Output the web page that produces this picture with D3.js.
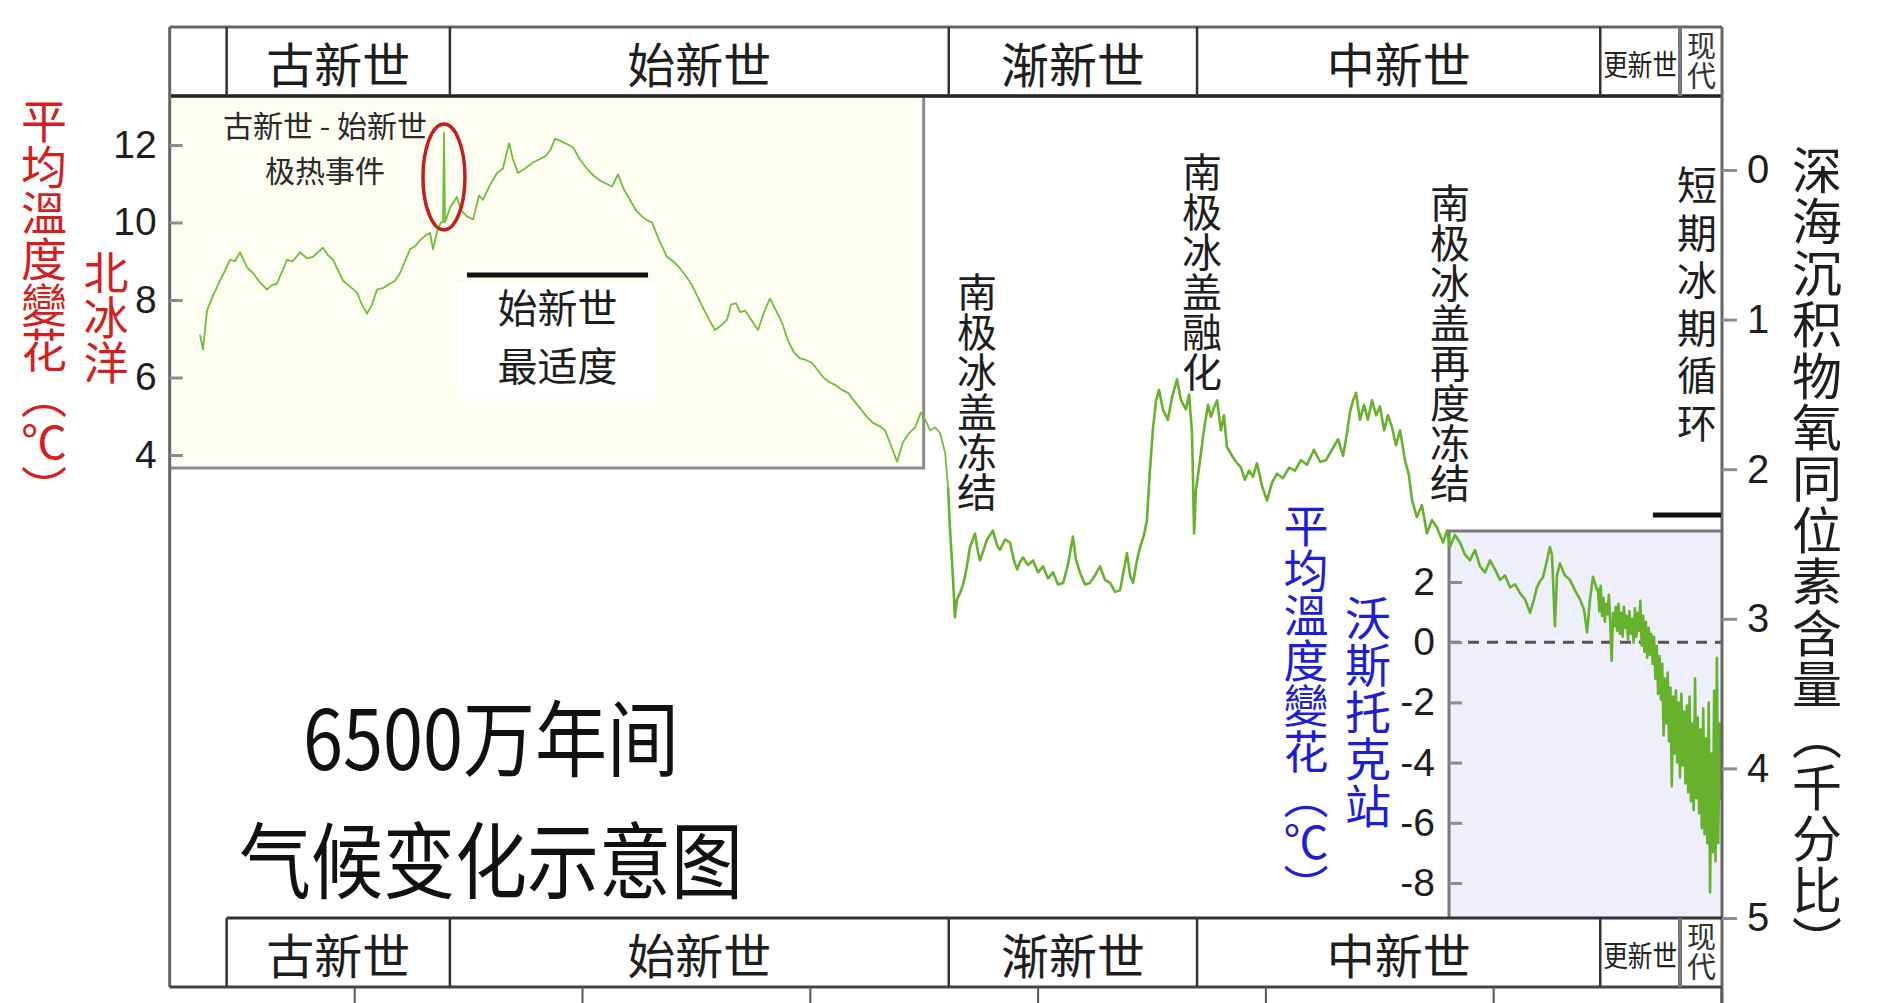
<!DOCTYPE html>
<html><head><meta charset="utf-8">
<script src="https://cdn.jsdelivr.net/npm/d3@7/dist/d3.min.js"></script>
<style>
html,body{margin:0;padding:0;background:#fff;}
svg{display:block;}
</style></head><body>
<svg id="chart" width="1900" height="1003"></svg>
<script>
// ---- data: deep-sea benthic oxygen isotope curve (age in Ma, d18O in per mil) ----
const ages = [
66.77,66.64,66.46,66.20,65.89,65.63,65.45,65.23,65.01,64.71,
64.44,64.14,63.83,63.61,63.39,63.17,62.95,62.69,62.38,62.07,
61.81,61.59,61.37,61.15,60.93,60.71,60.49,60.18,59.88,59.66,
59.44,59.22,59.00,58.74,58.43,58.21,57.99,57.77,57.55,57.33,
57.11,56.89,56.67,56.54,56.36,56.19,
56.10,56.06,56.01,
55.79,55.49,55.31,
55.05,54.78,54.52,54.35,54.04,53.73,53.47,53.20,53.03,52.81,
52.50,52.15,51.89,51.62,51.40,51.18,50.88,50.61,50.39,50.09,
49.74,49.47,49.21,48.95,48.68,48.42,48.16,47.89,47.63,47.37,
47.10,46.93,46.58,46.27,46.00,45.74,45.48,45.21,44.95,44.69,
44.42,44.16,43.90,43.63,43.46,43.24,43.06,42.84,42.58,42.27,
42.01,41.75,41.48,41.22,40.96,40.69,40.43,40.17,39.90,39.64,
39.38,39.11,38.85,38.59,38.32,38.02,37.75,37.49,37.23,36.96,
36.70,36.44,36.17,35.91,35.65,35.38,35.12,34.90,34.72,34.50,
34.28,34.06,33.93,33.85,33.71,33.63,33.54,33.41,33.27,33.19,
33.06,32.97,32.84,32.75,32.62,32.53,32.35,32.22,32.09,31.96,
31.78,31.65,31.43,31.21,31.04,30.90,30.77,30.64,30.42,30.20,
29.98,29.76,29.54,29.32,29.10,28.88,28.67,28.45,28.31,28.14,
27.92,27.70,27.48,27.26,27.04,26.82,26.60,26.38,26.21,26.08,
25.94,25.81,25.64,25.50,25.33,25.20,25.07,24.93,24.80,24.67,
24.50,24.28,24.10,23.88,23.70,23.49,23.35,23.22,23.13,23.05,
22.87,22.70,22.52,22.39,22.26,22.12,21.95,21.82,21.69,21.47,
21.29,21.07,20.90,20.72,20.54,20.37,20.15,19.93,19.71,19.49,
19.23,18.96,18.70,18.44,18.17,17.87,17.60,17.34,17.08,16.81,
16.59,16.42,16.29,16.15,16.02,15.85,15.67,15.50,15.32,15.14,
14.97,14.79,14.62,14.44,14.27,14.09,13.87,13.70,13.56,13.35,
13.13,12.91,12.69,12.47,12.20,12.03,11.90,11.68,11.46,11.24,
11.02,10.80,10.58,10.36,10.14,9.92,9.70,9.48,9.26,9.04,
8.82,8.60,8.38,8.21,8.08,7.95,7.81,7.64,7.51,7.42,
7.29,7.20,7.07,6.85,6.63,6.41,6.19,6.01,5.88,5.75,
5.62,5.44,
5.40,5.34,5.28,5.22,5.16,5.10,5.04,4.98,4.92,4.86,
4.80,4.74,4.68,4.62,4.56,4.50,4.44,4.38,4.32,4.26,
4.20,4.14,4.08,4.02,3.96,3.90,3.84,3.78,3.72,3.66,
3.60,3.54,3.48,3.42,3.36,3.30,3.24,3.18,3.12,3.06,
3.00,2.94,2.88,2.82,2.76,2.70,2.64,2.58,2.52,2.46,
2.40,2.34,2.28,2.22,2.16,2.10,2.04,1.98,1.92,1.86,
1.80,1.74,1.68,1.62,1.56,1.50,1.44,1.38,1.32,1.26,
1.20,1.14,1.08,1.02,0.96,0.90,0.84,0.78,0.72,0.66,
0.60,0.54,0.48,0.42,0.36,0.30,0.24,0.18,0.12,0.06,
0.00];
const d18O = [
1.10,1.20,0.94,0.84,0.74,0.66,0.60,0.61,0.55,0.65,
0.69,0.75,0.80,0.77,0.76,0.68,0.60,0.61,0.55,0.59,
0.58,0.55,0.52,0.57,0.60,0.67,0.74,0.78,0.82,0.90,
0.96,0.90,0.80,0.79,0.76,0.74,0.69,0.61,0.53,0.51,
0.47,0.44,0.42,0.53,0.41,0.35,
0.35,-0.25,0.35,
0.25,0.18,0.27,
0.31,0.33,0.17,0.20,0.10,0.02,-0.01,-0.18,-0.07,0.02,
-0.01,-0.05,-0.07,-0.09,-0.13,-0.21,-0.19,-0.17,-0.15,-0.07,
0.00,0.04,0.07,0.09,0.11,0.03,0.13,0.20,0.27,0.31,
0.34,0.35,0.48,0.58,0.61,0.65,0.70,0.76,0.84,0.92,
1.00,1.07,1.04,1.00,0.90,0.89,0.95,0.94,1.00,1.07,
0.95,0.86,0.94,1.02,1.14,1.22,1.26,1.27,1.29,1.34,
1.39,1.42,1.44,1.47,1.49,1.55,1.60,1.65,1.69,1.71,
1.74,1.84,1.95,1.82,1.76,1.72,1.62,1.68,1.74,1.72,
1.76,1.89,2.12,2.39,2.74,2.99,2.87,2.83,2.77,2.72,
2.61,2.52,2.47,2.43,2.55,2.61,2.53,2.47,2.44,2.41,
2.51,2.54,2.47,2.49,2.61,2.67,2.62,2.59,2.64,2.61,
2.69,2.65,2.73,2.69,2.77,2.76,2.64,2.45,2.61,2.69,
2.77,2.76,2.71,2.65,2.74,2.76,2.82,2.81,2.67,2.56,
2.71,2.76,2.61,2.52,2.44,2.34,2.01,1.72,1.54,1.47,
1.60,1.67,1.52,1.40,1.54,1.60,1.50,1.76,2.43,2.14,
1.94,1.74,1.57,1.65,1.59,1.54,1.74,1.64,1.85,1.91,
1.95,1.99,2.07,2.01,2.05,1.96,2.11,2.21,2.09,2.03,
2.06,1.99,2.01,1.94,1.97,1.87,1.95,1.94,1.87,1.80,
1.91,1.76,1.62,1.54,1.49,1.67,1.57,1.67,1.54,1.64,
1.58,1.74,1.64,1.72,1.84,1.74,1.94,2.04,2.21,2.32,
2.24,2.43,2.34,2.39,2.49,2.41,2.52,2.44,2.49,2.57,
2.61,2.54,2.65,2.69,2.61,2.67,2.74,2.71,2.79,2.77,
2.83,2.87,2.96,2.87,2.79,2.75,2.72,2.61,2.52,2.57,
3.05,2.71,2.63,2.71,2.74,2.81,2.87,2.94,3.09,2.87,
2.72,2.81,
2.80,2.95,2.78,2.98,2.86,3.02,2.90,2.97,2.84,3.04,
3.28,2.96,3.05,2.92,3.08,2.90,3.10,2.96,3.12,2.92,
3.06,2.98,3.14,2.95,3.10,3.00,3.16,2.93,3.12,2.96,
3.08,2.88,3.18,2.98,3.22,3.02,3.26,3.06,3.24,3.10,
3.30,3.12,3.40,3.18,3.50,3.25,3.54,3.30,3.78,3.40,
3.70,3.36,3.82,3.46,4.12,3.52,3.90,3.48,3.96,3.56,
4.06,3.50,3.98,3.62,4.10,3.58,4.16,3.52,4.22,3.70,
4.28,3.40,4.20,3.66,4.30,3.74,4.40,3.60,4.44,3.80,
4.50,3.56,4.83,3.90,4.56,3.48,4.62,3.26,4.50,3.70,
4.21];

const epochNames = ["古新世","始新世","渐新世","中新世","更新世","现代"];
const epochStart = [65.6, 55.8, 33.9, 23.0, 5.3, 1.8];
const epochEnd   = [55.8, 33.9, 23.0, 5.3, 1.8, 0];
const arcticTicks  = [12, 10, 8, 6, 4];
const vostokTicks  = [2, 0, -2, -4, -6, -8];
const isotopeTicks = [0, 1, 2, 3, 4, 5];
const ageTicks     = [60, 50, 40, 30, 20, 10, 0];
const eoceneOptimum = [55.05, 47.1];
const glacialCycles = [2.99, 0];
const petmAge = 56.06;
const oligoceneStart = 33.93;

// ---- scales ----
const svg = d3.select("#chart");
const x = d3.scaleLinear().domain([0, 60]).range([1721, 354.2]);
const yIso = d3.scaleLinear().domain([0, 5]).range([170, 918]);
const yArc = d3.scaleLinear().domain([4, 12]).range([455, 145]);
const yVos = d3.scaleLinear().domain([-8, 2]).range([883, 582]);

const L = x(68.1), R = x(0) + 1;
const TOP = 27, HB = 96, BT = 918, BB = 987;
const CJK = "'Noto Sans CJK SC','Noto Sans CJK TC',sans-serif";
const LAT = "'Liberation Sans',Arial,sans-serif";

svg.append("rect").attr("width",1900).attr("height",1003).attr("fill","#fff");

// Arctic inset background
const insetR = x(35.0), insetB = 468;
svg.append("rect").attr("x",L).attr("y",HB).attr("width",insetR-L).attr("height",insetB-HB)
  .attr("fill","#fdfdf1");
svg.append("path").attr("d",`M${insetR},${HB}V${insetB}H${L}`).attr("fill","none")
  .attr("stroke","#8a8a8a").attr("stroke-width",3);
svg.append("rect").attr("x",458).attr("y",283).attr("width",198).attr("height",115).attr("fill","#fff");

// Vostok inset background
const vL = x(11.94), vT = 531;
svg.append("rect").attr("x",vL).attr("y",vT).attr("width",R-vL).attr("height",BT-vT).attr("fill","#eeeffa");
svg.append("path").attr("d",`M${vL},${BT}V${vT}H${R}`).attr("fill","none")
  .attr("stroke","#7a7a7a").attr("stroke-width",3);
svg.append("line").attr("x1",vL).attr("x2",R).attr("y1",yVos(0)).attr("y2",yVos(0))
  .attr("stroke","#555").attr("stroke-width",3).attr("stroke-dasharray","11,8");

// ---- curve ----
const n = Math.min(ages.length, d18O.length);
const pts = d3.range(n).map(i=>({age:ages[i], v:d18O[i]}));
const line = d3.line().x(d=>x(d.age)).y(d=>yIso(d.v));
svg.append("path").datum(pts.filter(d=>d.age>=oligoceneStart))
  .attr("d", line).attr("fill","none").attr("stroke","#74bd3a").attr("stroke-width",1.8)
  .attr("stroke-linejoin","round");
svg.append("path").datum(pts.filter(d=>d.age<=oligoceneStart))
  .attr("d", line).attr("fill","none").attr("stroke","#66b22c").attr("stroke-width",2.6)
  .attr("stroke-linejoin","round");

// ---- frame ----
const frame = svg.append("g").attr("fill","none");
frame.append("line").attr("x1",L).attr("x2",R).attr("y1",TOP).attr("y2",TOP).attr("stroke","#666").attr("stroke-width",3);
frame.append("line").attr("x1",L).attr("x2",R).attr("y1",HB).attr("y2",HB).attr("stroke","#222").attr("stroke-width",3.5);
frame.append("line").attr("x1",L).attr("x2",L).attr("y1",TOP).attr("y2",BB).attr("stroke","#666").attr("stroke-width",3);
frame.append("line").attr("x1",R).attr("x2",R).attr("y1",TOP).attr("y2",1003).attr("stroke","#666").attr("stroke-width",3);
frame.append("line").attr("x1",x(epochStart[0])).attr("x2",R).attr("y1",BT).attr("y2",BT).attr("stroke","#333").attr("stroke-width",3);
frame.append("line").attr("x1",L).attr("x2",R).attr("y1",BB).attr("y2",BB).attr("stroke","#444").attr("stroke-width",3);

// ---- vertical label helper (vertical writing mode) ----
function vtext(t, cx, top, size, pitch, color){
  svg.append("text").attr("x",cx).attr("y",top).attr("font-family",CJK).attr("font-size",size)
    .attr("fill",color).style("writing-mode","vertical-rl")
    .style("letter-spacing",(pitch-size)+"px").text(t);
}

// epoch bands
[[TOP,HB],[BT,BB]].forEach(([y0,y1])=>{
  epochStart.forEach((s,i)=>{
    svg.append("line").attr("x1",x(s)).attr("x2",x(s)).attr("y1",y0).attr("y2",y1)
      .attr("stroke", i===5 ? "#777" : "#333").attr("stroke-width", i===5 ? 4 : 2.5);
  });
  const cy = (y0+y1)/2;
  epochNames.forEach((nm,i)=>{
    const cx = (x(epochStart[i]) + x(epochEnd[i]))/2;
    if (i < 4) {
      svg.append("text").attr("x",cx).attr("y",cy).attr("text-anchor","middle")
        .attr("dominant-baseline","central").attr("font-family",CJK).attr("font-size",48)
        .attr("fill","#1e1e1e").text(nm);
    } else if (i === 4) {
      svg.append("text").attr("x",cx).attr("y",cy+1).attr("text-anchor","middle")
        .attr("dominant-baseline","central").attr("font-family",CJK).attr("font-size",29)
        .attr("textLength",74).attr("lengthAdjust","spacingAndGlyphs")
        .attr("fill","#222").text(nm);
    } else {
      vtext(nm, cx+1, y0+4, 29, 30, "#333");
    }
  });
});

// ---- axes ----
function styleAxis(g, size){
  g.select(".domain").remove();
  g.selectAll(".tick line").attr("stroke","#8a8a9a").attr("stroke-width",3);
  g.selectAll(".tick text").attr("font-family",LAT).attr("font-size",size).attr("fill","#1e1e1e");
}
const plain = d => String(d);
svg.append("g").attr("transform",`translate(${L},0)`)
  .call(d3.axisLeft(yArc).tickValues(arcticTicks).tickSize(-13).tickPadding(13).tickFormat(plain))
  .call(g=>styleAxis(g,39));
svg.append("g").attr("transform",`translate(${vL},0)`)
  .call(d3.axisLeft(yVos).tickValues(vostokTicks).tickSize(-13).tickPadding(14).tickFormat(plain))
  .call(g=>styleAxis(g,39));
svg.append("g").attr("transform",`translate(${R},0)`)
  .call(d3.axisRight(yIso).tickValues(isotopeTicks).tickSize(15).tickPadding(10).tickFormat(plain))
  .call(g=>styleAxis(g,40));
svg.append("g").attr("transform",`translate(0,${BB})`)
  .call(d3.axisBottom(x).tickValues(ageTicks).tickSize(20).tickFormat(""))
  .call(g=>{g.select(".domain").remove(); g.selectAll(".tick line").attr("stroke","#555").attr("stroke-width",2);});

// ---- vertical texts ----
vtext("平均溫度變花（℃）", 44, 98, 46, 45.8, "#d41f1f");
vtext("北冰洋", 106, 250, 45, 45, "#d41f1f");
vtext("平均溫度變花（℃）", 1306, 503, 45, 45.2, "#1e1ed8");
vtext("沃斯托克站", 1368, 595, 46, 47, "#1e1ed8");
vtext("深海沉积物氧同位素含量（千分比）", 1817, 145, 50, 51.4, "#1e1e1e");
vtext("南极冰盖冻结", 977, 272, 40, 40, "#1e1e1e");
vtext("南极冰盖融化", 1202, 152, 40, 40, "#1e1e1e");
vtext("南极冰盖再度冻结", 1450, 183, 40, 40, "#1e1e1e");
vtext("短期冰期循环", 1697, 165, 40, 47.5, "#1e1e1e");

// ---- annotations (multi-line labels as one text element) ----
function mtext(lines, cx, cys, size, color){
  const t = svg.append("text").attr("text-anchor","middle").attr("dominant-baseline","central")
    .attr("font-family",CJK).attr("font-size",size).attr("fill",color);
  lines.forEach((l,i)=> t.append("tspan").attr("x",cx).attr("y",cys[i]).text(l));
  return t;
}
mtext(["古新世 - 始新世","极热事件"], 325, [124,169], 30, "#2a2a2a");
const eoCx = (x(eoceneOptimum[0])+x(eoceneOptimum[1]))/2;
mtext(["始新世","最适度"], eoCx, [306,364], 40, "#1e1e1e");
svg.append("line").attr("x1",x(eoceneOptimum[0])).attr("x2",x(eoceneOptimum[1]))
  .attr("y1",275).attr("y2",275).attr("stroke","#111").attr("stroke-width",5);
svg.append("line").attr("x1",x(glacialCycles[0])).attr("x2",x(glacialCycles[1]))
  .attr("y1",515).attr("y2",515).attr("stroke","#111").attr("stroke-width",5);
svg.append("ellipse").attr("cx",x(petmAge)).attr("cy",177).attr("rx",21).attr("ry",53)
  .attr("fill","none").attr("stroke","#c41e1e").attr("stroke-width",3.5);

// ---- title ----
const sy = 1.16;
const tg = svg.append("g").attr("transform",`translate(491,0) scale(1,${sy})`);
const tt = tg.append("text").attr("text-anchor","middle").attr("dominant-baseline","central")
  .attr("font-family",CJK).attr("font-size",72).attr("fill","#111");
tt.append("tspan").attr("x",0).attr("y",734/sy).text("6500万年间");
tt.append("tspan").attr("x",0).attr("y",856/sy).text("气候变化示意图");
</script>
</body></html>
